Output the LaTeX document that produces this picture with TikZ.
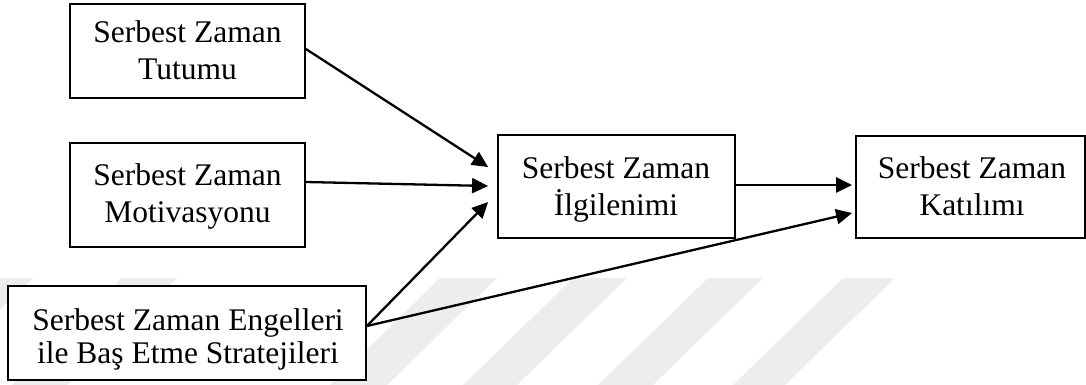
\documentclass[tikz,border=0pt]{standalone}
\usepackage{fontspec}
\setmainfont{Liberation Serif}
\usetikzlibrary{arrows.meta}

\tikzset{
  box/.style={draw=black, line width=1.8pt, fill=white, rectangle, inner sep=0pt},
  txt/.style={anchor=base, inner sep=0pt, font=\fontsize{31.5pt}{37pt}\selectfont},
  arr/.style={line width=2.3pt, -{Triangle[length=16pt,width=15pt]}},
  stripe/.style={fill=black!7, draw=none}
}

\begin{document}
\begin{tikzpicture}[x=1pt, y=-1pt]
  \useasboundingbox (0,0) rectangle (1086,385);

  % faint diagonal band pattern in the background
  \foreach \a/\b in {-22/33, 122/177, 440/497, 573/627, 708/763, 843/895}
    \fill[stripe] (\a,278) -- (\b,278) -- (\b-110,385) -- (\a-110,385) -- cycle;

  % boxes
  \node[box, minimum width=235pt, minimum height=94pt]  (tut) at (187.5,51)  {};
  \node[box, minimum width=235pt, minimum height=104pt] (mot) at (187.5,195) {};
  \node[box, minimum width=358pt, minimum height=94pt]  (eng) at (187,333)   {};
  \node[box, minimum width=237pt, minimum height=103pt] (ilg) at (616.5,186.5) {};
  \node[box, minimum width=229pt, minimum height=102pt] (kat) at (970.5,187) {};

  % box texts
  \node[txt] (tut1) at (187.5,43)  {Serbest Zaman};
  \node[txt] (tut2) at (187.5,80)  {Tutumu};
  \node[txt] (mot1) at (187.5,185) {Serbest Zaman};
  \node[txt] (mot2) at (187.5,222) {Motivasyonu};
  \node[txt] (eng1) at (188,330)   {Serbest Zaman Engelleri};
  \node[txt] (eng2) at (188,363)   {ile Baş Etme Stratejileri};
  \node[txt] (ilg1) at (616,178)   {Serbest Zaman};
  \node[txt] (ilg2) at (616,215)   {İlgilenimi};
  \node[txt] (kat1) at (972,178)   {Serbest Zaman};
  \node[txt] (kat2) at (972,215)   {Katılımı};

  % arrow start and end points on the box sides
  \coordinate (ilgA) at ([shift={(-9,-19.5)}]ilg.west);
  \coordinate (ilgB) at ([shift={(-9,-0.5)}]ilg.west);
  \coordinate (ilgC) at ([shift={(-9,15.5)}]ilg.west);
  \coordinate (katA) at ([shift={(-3,-2)}]kat.west);
  \coordinate (katB) at ([shift={(-3,26)}]kat.west);
  \coordinate (tutS) at ([shift={(0,-2)}]tut.east);
  \coordinate (motS) at ([shift={(0,-13)}]mot.east);
  \coordinate (engS) at ([shift={(0,-7)}]eng.east);
  \coordinate (ilgS) at ([shift={(0,-1.5)}]ilg.east);

  % connectors
  \draw[arr] (tutS) -- (ilgA);
  \draw[arr] (motS) -- (ilgB);
  \draw[arr] (engS) -- (ilgC);
  \draw[arr] (engS) -- (katB);
  \draw[arr] (ilgS) -- (katA);
\end{tikzpicture}
\end{document}
